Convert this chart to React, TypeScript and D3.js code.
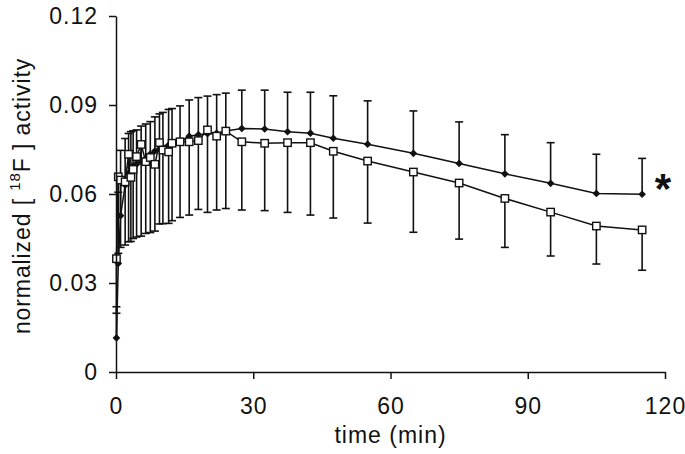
import { useEffect, useRef } from "react";
import * as d3 from "d3";

// frame mid-times (min)
const times = [0.1, 0.5, 1, 2, 2.75, 3.25, 3.75, 4.5, 5.5, 6.5, 7.5, 8.5, 9.5, 10.25, 11.5, 12.25, 14, 16, 18, 20, 22, 24, 27.5, 32.5, 37.5, 42.5, 47.5, 55, 65, 75, 85, 95, 105, 115];

// filled diamonds (upper error bars)
const filledMean = [0.0115, 0.0366, 0.0527, 0.063, 0.067, 0.069, 0.0695, 0.07, 0.071, 0.072, 0.0735, 0.0745, 0.0752, 0.0758, 0.0765, 0.077, 0.0775, 0.0795, 0.08, 0.0803, 0.0805, 0.0812, 0.0821, 0.0819, 0.081, 0.0805, 0.0788, 0.0768, 0.0737, 0.0703, 0.0668, 0.0636, 0.0602, 0.0599];
const filledSD = [0.0105, 0.024, 0.022, 0.0157, 0.0134, 0.012, 0.0118, 0.0116, 0.0119, 0.0116, 0.0109, 0.0115, 0.0118, 0.0117, 0.012, 0.0118, 0.0122, 0.0122, 0.0125, 0.0127, 0.013, 0.0128, 0.0129, 0.0131, 0.0133, 0.0138, 0.0143, 0.0146, 0.0143, 0.014, 0.0132, 0.0137, 0.0132, 0.0121];

// open squares (lower error bars)
const openMean = [0.0382, 0.0658, 0.0647, 0.0641, 0.0734, 0.0656, 0.0683, 0.0726, 0.0767, 0.0709, 0.0723, 0.07, 0.0773, 0.0748, 0.0742, 0.0771, 0.0776, 0.0776, 0.078, 0.0816, 0.0795, 0.0812, 0.0776, 0.0771, 0.0773, 0.0773, 0.0744, 0.0711, 0.0674, 0.0637, 0.0585, 0.0539, 0.0492, 0.0479];
const openSD = [0.0184, 0.0258, 0.0227, 0.0213, 0.0295, 0.0216, 0.0233, 0.0271, 0.0309, 0.0242, 0.0253, 0.0225, 0.0274, 0.0248, 0.0241, 0.0261, 0.0255, 0.0247, 0.0232, 0.0278, 0.0249, 0.0261, 0.023, 0.0227, 0.0235, 0.0244, 0.0225, 0.0209, 0.0203, 0.0189, 0.0165, 0.0148, 0.0128, 0.0136];

const xTicks = [0, 30, 60, 90, 120];
const yTicks = [0, 0.03, 0.06, 0.09, 0.12];

const W = 685;
const H = 454;
const ink = "#111";
const font = "'Liberation Sans', Arial, sans-serif";

const x = d3.scaleLinear().domain([0, 120]).range([116, 665]);
const y = d3.scaleLinear().domain([0, 0.12]).range([372, 16]);

const App = () => {
  const xAxisRef = useRef<SVGGElement>(null);
  const yAxisRef = useRef<SVGGElement>(null);

  useEffect(() => {
    const xa = d3.select(xAxisRef.current!);
    xa.selectAll("*").remove();
    xa.call(
      d3.axisBottom(x).tickValues(xTicks).tickSize(7).tickSizeOuter(0).tickPadding(19).tickFormat(d3.format("d"))
    );
    const ya = d3.select(yAxisRef.current!);
    ya.selectAll("*").remove();
    ya.call(
      d3.axisLeft(y).tickValues(yTicks).tickSize(7).tickSizeOuter(0).tickPadding(11)
        .tickFormat((d) => (+d === 0 ? "0" : d3.format(".2f")(+d)))
    );
    [xa, ya].forEach((a) => {
      a.selectAll("path, line").attr("stroke", ink).attr("stroke-width", 1.5);
      a.selectAll("text").attr("fill", ink).attr("font-family", font).attr("font-size", 23).attr("letter-spacing", 1);
    });
  }, []);

  const seriesLine = d3.line<number>().x((_, i) => x(times[i])).y((d) => y(d));

  return (
    <svg width={W} height={H} style={{ position: "absolute", left: 0, top: 0, background: "#fff" }}>
      {/* filled series */}
      <g stroke={ink} strokeWidth={1.6}>
        {filledMean.map((m, i) => (
          <g key={"fe" + i}>
            <line x1={x(times[i])} x2={x(times[i])} y1={y(m)} y2={y(m + filledSD[i])} />
            <line x1={x(times[i]) - 4} x2={x(times[i]) + 4} y1={y(m + filledSD[i])} y2={y(m + filledSD[i])} />
          </g>
        ))}
      </g>
      <path d={seriesLine(filledMean) ?? ""} fill="none" stroke={ink} strokeWidth={1.5} />
      {filledMean.map((m, i) => (
        <rect
          key={"fd" + i}
          x={-2.7}
          y={-2.7}
          width={5.4}
          height={5.4}
          fill={ink}
          transform={`translate(${x(times[i])},${y(m)}) rotate(45)`}
        />
      ))}

      {/* open series */}
      <g stroke={ink} strokeWidth={1.6}>
        {openMean.map((m, i) => (
          <g key={"oe" + i}>
            <line x1={x(times[i])} x2={x(times[i])} y1={y(m)} y2={y(m - openSD[i])} />
            <line x1={x(times[i]) - 4} x2={x(times[i]) + 4} y1={y(m - openSD[i])} y2={y(m - openSD[i])} />
          </g>
        ))}
      </g>
      <path d={seriesLine(openMean) ?? ""} fill="none" stroke={ink} strokeWidth={1.5} />
      {openMean.map((m, i) => (
        <rect
          key={"os" + i}
          x={x(times[i]) - 3.7}
          y={y(m) - 3.7}
          width={7.4}
          height={7.4}
          fill="#fff"
          stroke={ink}
          strokeWidth={1.4}
        />
      ))}

      <g ref={xAxisRef} transform={`translate(0,${y(0)})`} />
      <g ref={yAxisRef} transform={`translate(${x(0)},0)`} />

      <text x={x(60)} y={443} textAnchor="middle" fontFamily={font} fontSize={23} letterSpacing={1} fill={ink}>
        time (min)
      </text>
      <text
        transform={`translate(30,${(y(0) + y(0.12)) / 2 + 2}) rotate(-90)`}
        textAnchor="middle"
        fontFamily={font}
        fontSize={23}
        letterSpacing={0.9}
        fill={ink}
      >
        normalized [ <tspan fontSize={15} dy={-10}>18</tspan>
        <tspan dy={10}>F ] activity</tspan>
      </text>
      <text x={663} y={203} textAnchor="middle" fontFamily={font} fontSize={42} fontWeight="bold" fill={ink}>
        *
      </text>
    </svg>
  );
};

export default App;
